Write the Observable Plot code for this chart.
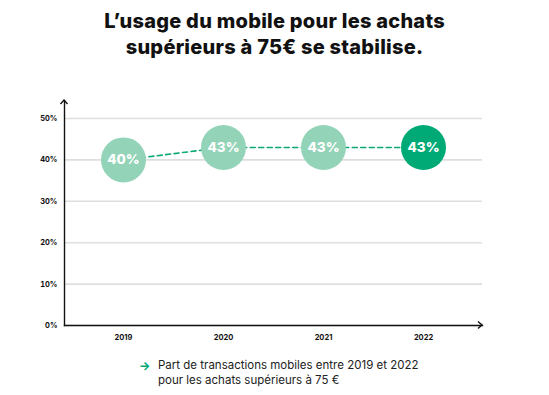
<!DOCTYPE html>
<html><head><meta charset="utf-8">
<script src="https://cdn.jsdelivr.net/npm/d3@7"></script>
<script src="https://cdn.jsdelivr.net/npm/@observablehq/plot@0.6"></script>
<style>
body{margin:0;background:#fff;font-family:Inter,"Open Sans",sans-serif;}
#wrap{width:549px;height:395px;position:relative;overflow:hidden}
h1{margin:0;position:absolute;top:8px;left:0;width:549px;text-align:center;font-size:20px;line-height:26px;font-weight:800;color:#111;letter-spacing:0.25px}
#chart{position:absolute;top:75px;left:0}
#legend{position:absolute;top:358px;left:139px;font-size:11.5px;line-height:15px;color:#222;display:flex}
#legend .arr{color:#00a878;font-weight:700;width:19px;font-size:12px}
</style></head>
<body><div id="wrap">
<h1>L’usage du mobile pour les achats<br>supérieurs à 75€ se stabilise.</h1>
<div id="chart"></div>
<div id="legend"><span class="arr">→</span><span>Part de transactions mobiles entre 2019 et 2022<br>pour les achats supérieurs à 75 €</span></div>
</div>
<script>
const years = ["2019","2020","2021","2022"];
const shares = [40, 43, 43, 43];
const highlight = [false, false, false, true];
const yTicks = [0,10,20,30,40,50];

const data = years.map((y,i)=>({year:y, share:shares[i], hl:highlight[i]}));

const plot = Plot.plot({
  width: 549, height: 280,
  marginLeft: 64, marginRight: 67, marginTop: 25, marginBottom: 30,
  style: {fontFamily: "Inter, sans-serif", background: "transparent"},
  x: {type: "point", domain: years, padding: 0.58, label: null},
  y: {domain: [0, 50], insetTop: 18, label: null},
  marks: [
    Plot.gridY(yTicks, {stroke: "#dedede", strokeOpacity: 1, strokeWidth: 1.6}),
    Plot.axisY(yTicks, {tickSize: 0, tickPadding: 7, tickFormat: d => d + "%", fontSize: 7.5, fontWeight: 700, fill: "#111", label: null}),
    Plot.axisX({tickSize: 0, tickPadding: 9, fontSize: 7.5, fontWeight: 700, fill: "#111", label: null}),
    Plot.line(data, {x: "year", y: "share", stroke: "#0aa877", strokeWidth: 1.6, strokeDasharray: "5,3.5"}),
    Plot.dot(data, {x: "year", y: "share", r: 22.5, fill: d => d.hl ? "#00aa77" : "#93d3b8", stroke: null}),
    Plot.text(data, {x: "year", y: "share", text: d => d.share + "%", fill: "white", fontSize: 13.5, fontWeight: 800}),
    Plot.frame({anchor: "left", stroke: "#111", strokeWidth: 1.4}),
    Plot.frame({anchor: "bottom", stroke: "#111", strokeWidth: 1.4})
  ]
});
document.getElementById("chart").appendChild(plot);

// arrowheads on axis ends
const svg = d3.select(plot);
const L = 64, R = 549 - 67, T = 25, B = 280 - 30;
svg.append("path").attr("d", `M${L-3.5},${T+4}L${L},${T}L${L+3.5},${T+4}`).attr("fill","none").attr("stroke","#111").attr("stroke-width",1.4);
svg.append("path").attr("d", `M${R-4},${B-3.5}L${R},${B}L${R-4},${B+3.5}`).attr("fill","none").attr("stroke","#111").attr("stroke-width",1.4);
</script>
</body></html>
